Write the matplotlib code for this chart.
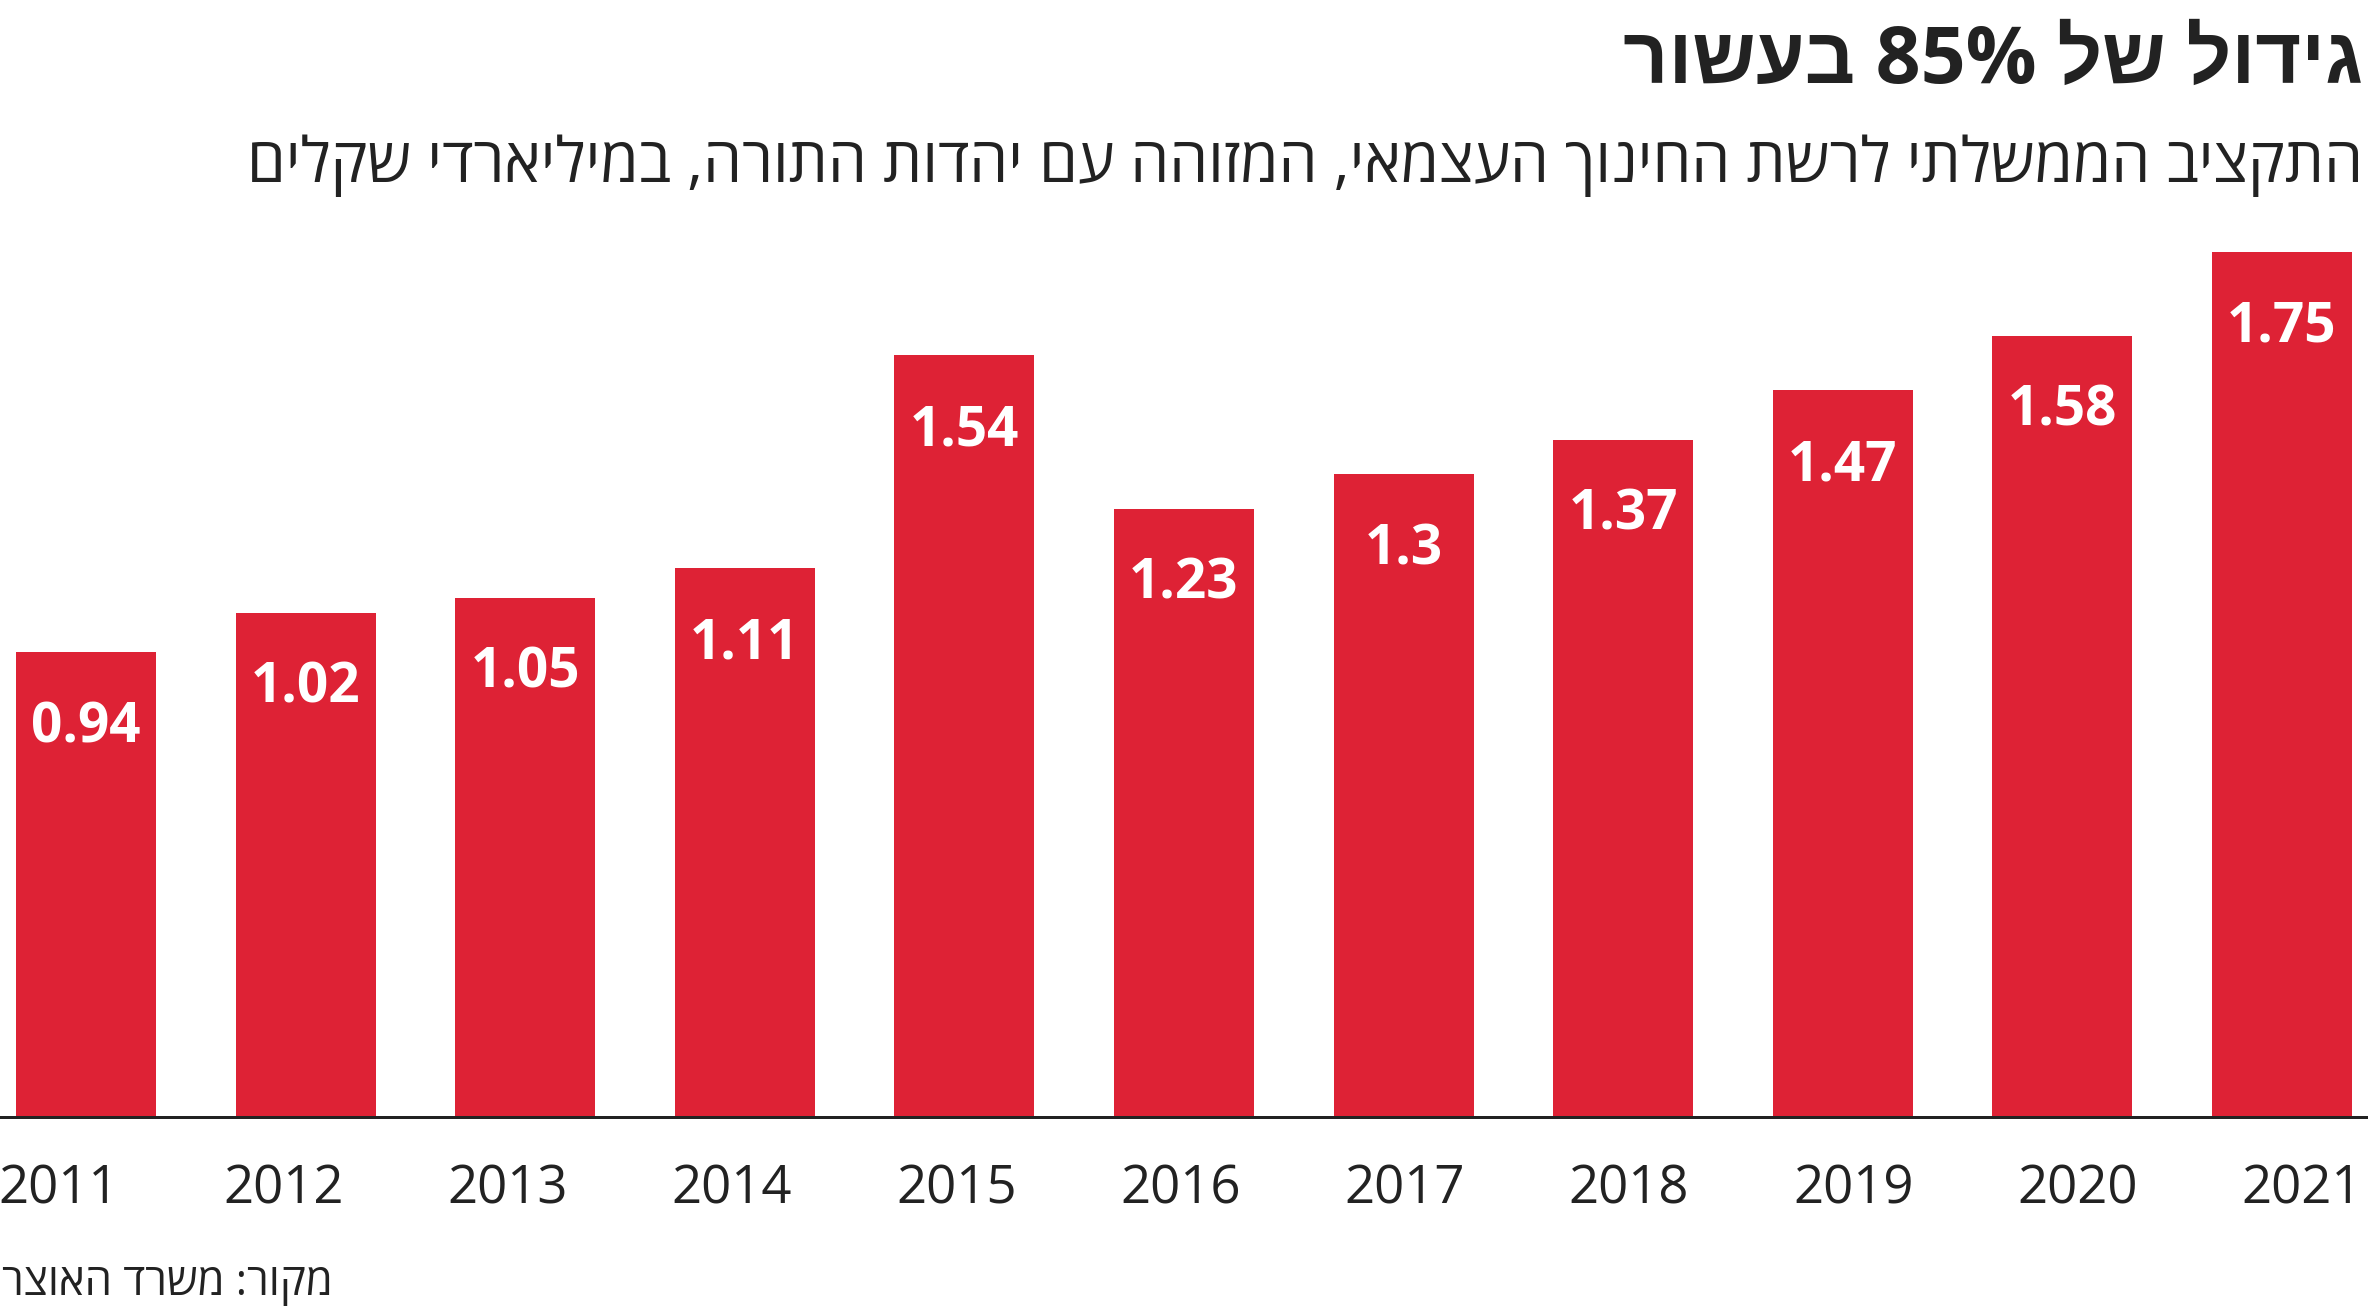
#!/usr/bin/env python3
"""Government budget for the independent education network, 2011-2021."""

import re

import matplotlib

matplotlib.use("Agg")
import matplotlib.pyplot as plt
from matplotlib import font_manager as fm
from matplotlib import ft2font

years = ["2011", "2012", "2013", "2014", "2015", "2016", "2017", "2018", "2019", "2020", "2021"]
budget = [0.94, 1.02, 1.05, 1.11, 1.54, 1.23, 1.30, 1.37, 1.47, 1.58, 1.75]

title = "גידול של 85% בעשור"
subtitle = "התקציב הממשלתי לרשת החינוך העצמאי, המזוהה עם יהדות התורה, במיליארדי שקלים"
source = "מקור: משרד האוצר"

BAR = "#de2235"
INK = "#222222"
W, H = 2368, 1313


def rtl(s: str) -> str:
    # matplotlib has no bidi: flip the string, keep number runs left-to-right
    rev = s[::-1]
    return re.sub(r"[0-9.%]+", lambda m: m.group(0)[::-1], rev)


def has_hebrew(name: str) -> bool:
    try:
        path = fm.findfont(fm.FontProperties(family=name), fallback_to_default=False)
        return ft2font.FT2Font(path).get_char_index(0x05D0) != 0
    except Exception:
        return False


heb = [f for f in ["Liberation Sans Narrow", "Open Sans", "Liberation Sans"] if has_hebrew(f)]
heb_family = heb[:1] + ["Open Sans", "Liberation Sans", "DejaVu Sans"]
num_family = ["Open Sans", "DejaVu Sans"]

fig = plt.figure(figsize=(W / 100, H / 100), dpi=100)
base_px = 1117
top_px = 200
pitch = 219.6
ax = fig.add_axes([0, 1 - base_px / H, 1, (base_px - top_px) / H])

x = list(range(len(years)))
ax.bar(x, budget, width=140 / pitch, color=BAR, zorder=1)
x0 = -70 / pitch - 16 / pitch
ax.set_xlim(x0, x0 + W / pitch)
ax.set_ylim(0, (base_px - top_px) / 494.5)
ax.axhline(0, color=INK, lw=3 * 0.72, zorder=3, clip_on=False)
ax.axis("off")

for xi, v in zip(x, budget):
    ax.annotate(f"{v:g}", (xi, v), xytext=(0, -90 * 0.72), textcoords="offset points",
                ha="center", va="baseline", color="white", fontsize=39.5,
                fontweight="bold", family=num_family)

n = len(years)
for i, yr in enumerate(years):
    cx = (59 + i * (2302 - 59) / (n - 1)) / W
    fig.text(cx, 1 - 1203 / H, yr, ha="center", va="baseline", fontsize=38,
             color=INK, family=num_family)

t_title = fig.text(2363 / W, 1 - 83 / H, rtl(title), ha="right", va="baseline",
                   fontsize=60, fontweight="bold", color=INK, family=heb_family)
t_sub = fig.text(2363 / W, 1 - 182 / H, rtl(subtitle), ha="right", va="baseline",
                 fontsize=40, color=INK, family=heb_family)
t_src = fig.text(2 / W, 1 - 1295 / H, rtl(source), ha="left", va="baseline",
                 fontsize=30, color=INK, family=heb_family)

# the source font is condensed; shrink each line to the width it has there
fig.canvas.draw()
renderer = fig.canvas.get_renderer()
for t, target in [(t_title, 741), (t_sub, 2113), (t_src, 331)]:
    w = t.get_window_extent(renderer).width
    t.set_fontsize(t.get_fontsize() * target / w)

fig.savefig("out.png", dpi=100, facecolor="white")
